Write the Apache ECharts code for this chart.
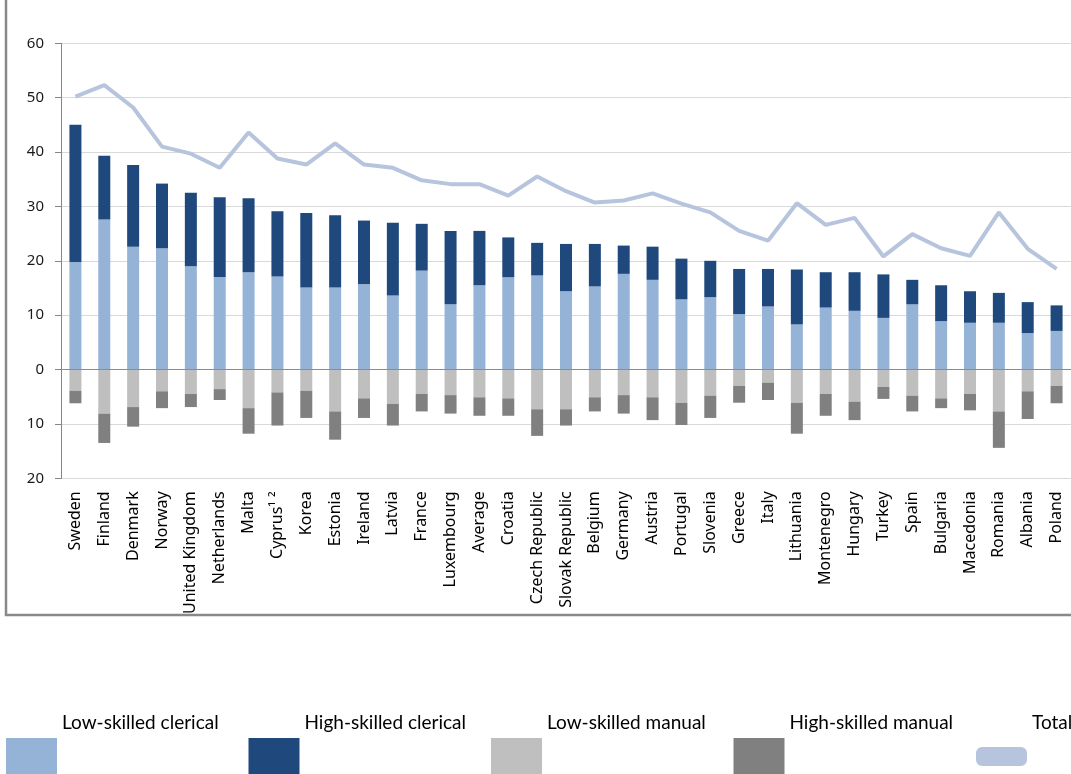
<!DOCTYPE html>
<html>
<head>
<meta charset="utf-8">
<script src="https://cdn.jsdelivr.net/npm/echarts@6/dist/echarts.min.js"></script>
<style>
  html, body { margin: 0; padding: 0; background: #ffffff; }
  #chart { width: 1071px; height: 774px; }
</style>
</head>
<body>
<div id="chart"></div>
<script>
// Countries along the category axis
const categories = [
  'Sweden', 'Finland', 'Denmark', 'Norway', 'United Kingdom', 'Netherlands', 'Malta',
  'Cyprus\u00b9 \u00b2', 'Korea', 'Estonia', 'Ireland', 'Latvia', 'France', 'Luxembourg',
  'Average', 'Croatia', 'Czech Republic', 'Slovak Republic', 'Belgium', 'Germany',
  'Austria', 'Portugal', 'Slovenia', 'Greece', 'Italy', 'Lithuania', 'Montenegro',
  'Hungary', 'Turkey', 'Spain', 'Bulgaria', 'Macedonia', 'Romania', 'Albania', 'Poland'
];

// Clerical occupations (stacked upwards)
const lowSkilledClerical = [
  19.8, 27.6, 22.6, 22.3, 19.0, 17.0, 17.9, 17.1, 15.1, 15.1, 15.7, 13.6, 18.2, 12.0,
  15.5, 17.0, 17.3, 14.4, 15.3, 17.6, 16.5, 12.9, 13.3, 10.2, 11.6, 8.3, 11.4,
  10.8, 9.5, 12.0, 8.9, 8.6, 8.6, 6.7, 7.1
];
const highSkilledClerical = [
  25.2, 11.7, 15.0, 11.9, 13.5, 14.7, 13.6, 12.0, 13.7, 13.3, 11.7, 13.4, 8.6, 13.5,
  10.0, 7.3, 6.0, 8.7, 7.8, 5.2, 6.1, 7.5, 6.7, 8.3, 6.9, 10.1, 6.5,
  7.1, 8.0, 4.5, 6.6, 5.8, 5.5, 5.7, 4.7
];

// Manual occupations (stacked downwards)
const lowSkilledManual = [
  -3.9, -8.1, -6.9, -4.0, -4.5, -3.6, -7.1, -4.2, -3.9, -7.7, -5.3, -6.3, -4.5, -4.7,
  -5.1, -5.3, -7.3, -7.3, -5.1, -4.7, -5.1, -6.1, -4.8, -3.0, -2.4, -6.1, -4.5,
  -5.9, -3.2, -4.8, -5.3, -4.5, -7.7, -4.0, -3.0
];
const highSkilledManual = [
  -2.3, -5.4, -3.6, -3.1, -2.4, -2.0, -4.7, -6.1, -5.0, -5.2, -3.6, -4.0, -3.2, -3.4,
  -3.4, -3.2, -4.9, -3.0, -2.6, -3.4, -4.2, -4.1, -4.1, -3.1, -3.2, -5.7, -4.0,
  -3.4, -2.2, -2.9, -1.8, -3.0, -6.7, -5.1, -3.2
];

// Overall share
const total = [
  50.2, 52.3, 48.2, 41.0, 39.7, 37.1, 43.6, 38.8, 37.7, 41.6, 37.7, 37.1, 34.8, 34.1,
  34.1, 32.0, 35.5, 32.8, 30.7, 31.1, 32.4, 30.5, 28.9, 25.5, 23.7, 30.6, 26.6,
  27.9, 20.8, 24.9, 22.3, 20.9, 28.9, 22.2, 18.5
];

const seriesNames = ['Low-skilled clerical', 'High-skilled clerical', 'Low-skilled manual', 'High-skilled manual', 'Total'];
const colors = ['#95b3d7', '#1f497d', '#bfbfbf', '#808080', '#b7c4dd'];

// Rounded swatch for the line series, padded to the full legend item box
const totalIcon = 'path://M0,0h0.01v0.01zM6,9H45A6,6 0 0 1 51,15V22A6,6 0 0 1 45,28H6A6,6 0 0 1 0,22V15A6,6 0 0 1 6,9ZM50.99,37.99h0.01v0.01z';

const chart = echarts.init(document.getElementById('chart'), null, { renderer: 'canvas' });

function barSeries(idx, values) {
  return {
    name: seriesNames[idx],
    type: 'bar',
    stack: 'share',
    barWidth: 12,
    data: values,
    itemStyle: { color: colors[idx] }
  };
}

const bars = [
  barSeries(0, lowSkilledClerical),
  barSeries(1, highSkilledClerical),
  barSeries(2, lowSkilledManual),
  barSeries(3, highSkilledManual)
];
// darker baseline at zero
bars[0].markLine = {
  silent: true,
  symbol: 'none',
  label: { show: false },
  lineStyle: { color: '#8c8c8c', width: 1, type: 'solid' },
  data: [{ yAxis: 0 }]
};

const axisFont = 'Noto Sans';

chart.setOption({
  animation: false,
  backgroundColor: '#ffffff',
  color: colors,
  grid: { left: 61, top: 43.3, width: 1013.6, height: 435 },
  graphic: [{
    type: 'rect',
    silent: true,
    shape: { x: 6, y: -10, width: 1200, height: 625 },
    style: { fill: 'none', stroke: '#898989', lineWidth: 2.5 }
  }],
  legend: {
    left: 6,
    top: 711,
    width: 1600,
    padding: 0,
    itemWidth: 51,
    itemHeight: 38,
    itemGap: 10.5,
    selectedMode: false,
    itemStyle: { borderWidth: 0 },
    // trailing blank lines lift the label above its swatch
    formatter: name => name + '\n\n\n',
    textStyle: {
      fontFamily: 'Lato',
      fontSize: 19,
      color: '#000000',
      width: 176,
      lineHeight: 23
    },
    data: [
      { name: seriesNames[0], icon: 'rect' },
      { name: seriesNames[1], icon: 'rect' },
      { name: seriesNames[2], icon: 'rect' },
      { name: seriesNames[3], icon: 'rect' },
      { name: seriesNames[4], icon: totalIcon }
    ]
  },
  xAxis: {
    type: 'category',
    data: categories,
    position: 'bottom',
    axisLine: { show: false },
    axisTick: { show: false },
    axisLabel: {
      rotate: 90,
      margin: 13,
      interval: 0,
      fontFamily: axisFont,
      fontSize: 16,
      color: '#000000'
    },
    splitLine: { show: false }
  },
  yAxis: {
    type: 'value',
    min: -20,
    max: 60,
    interval: 10,
    axisLine: { show: true, lineStyle: { color: '#868686', width: 1 } },
    axisTick: { show: true, length: 6, lineStyle: { color: '#868686' } },
    axisLabel: {
      margin: 17,
      fontFamily: axisFont,
      fontSize: 15,
      color: '#1a1a1a',
      formatter: v => String(Math.abs(v))
    },
    splitLine: { show: true, lineStyle: { color: '#d9d9d9', width: 1 } }
  },
  series: bars.concat([{
    name: seriesNames[4],
    type: 'line',
    data: total,
    showSymbol: false,
    symbol: 'none',
    z: 5,
    itemStyle: { color: colors[4] },
    lineStyle: { color: colors[4], width: 4 }
  }])
});
</script>
</body>
</html>
